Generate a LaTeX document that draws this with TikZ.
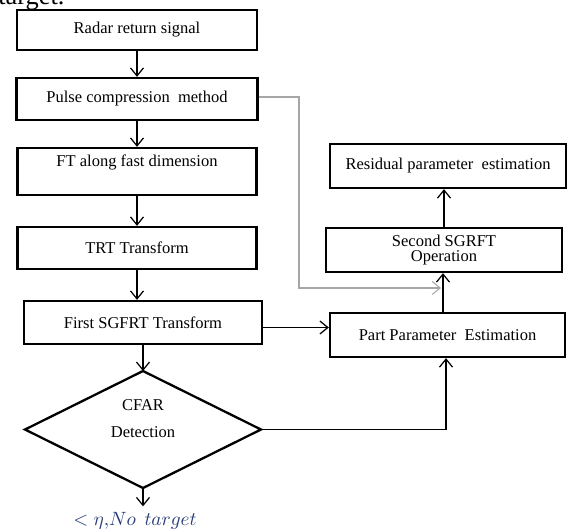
\documentclass[tikz,border=0pt]{standalone}
\usepackage{fontspec}
\setmainfont{Liberation Serif}
\usetikzlibrary{arrows.meta}
\definecolor{navyblue}{RGB}{40,60,120}
\begin{document}
\begin{tikzpicture}[x=0.02cm,y=-0.02cm,>={Straight Barb[length=1.6mm,width=2.6mm]}]
        \useasboundingbox (0,0) rectangle (568,528);
        \tikzstyle{every node}= [font=\fontsize{9.4}{10}\selectfont];
        \tikzstyle{blk}= [draw, line width=1.3pt, inner sep=0pt];
        \tikzstyle{link}= [draw, line width=0.7pt];
        \tikzstyle{feed}= [draw=gray!70, line width=0.6pt];

        % cut off caption above the chart
        \node(cap)[anchor=base west,inner sep=0pt,font=\fontsize{15}{18}\selectfont] at (-2,4) {target.};

        % left column
        \node(radar)[blk,minimum width=240*0.02cm,minimum height=40*0.02cm] at (137,30) {Radar return signal};
        \node(pulse)[blk,minimum width=241*0.02cm,minimum height=42*0.02cm] at (137,99) {Pulse compression~ method};
        \node(ft)[blk,minimum width=239*0.02cm,minimum height=47*0.02cm] at (137,171.5) {};
        \node(fttext) at (137,162) {FT along fast dimension};
        \node(trt)[blk,minimum width=239*0.02cm,minimum height=42*0.02cm] at (137,248) {TRT Transform};
        \node(first)[blk,minimum width=238*0.02cm,minimum height=43*0.02cm] at (143,322.5) {First SGFRT Transform};
        \draw[line width=1.3pt] (143,371) -- (261,429.5) -- (143,488) -- (25,429.5) -- cycle;
        \coordinate(ctop) at (143,371);
        \coordinate(cbot) at (143,488);
        \coordinate(cright) at (261,429.5);
        \coordinate(nobend) at (446,429.5);
        \node(cfartext)[align=center] at (143,418.5) {CFAR\\[5pt]Detection};
        \node(notarget)[text=navyblue,font=\fontsize{11}{12}\selectfont] at (135,521) {$<\eta,\!No\;\,target$};

        % right column
        \node(resid)[blk,minimum width=236*0.02cm,minimum height=44*0.02cm] at (448,166) {Residual parameter~ estimation};
        \node(second)[blk,minimum width=236*0.02cm,minimum height=44*0.02cm,align=center,
          font=\fontsize{9.4}{8.5}\selectfont] at (444,250) {Second SGRFT\\Operation};
        \node(part)[blk,minimum width=235*0.02cm,minimum height=44*0.02cm] at (447.5,335) {Part Parameter~ Estimation};
        \coordinate(fbend1) at (299,97);
        \coordinate(fbend2) at (299,288);
        \coordinate(fend) at (441,288);

        % connectors
        \draw[link,->] (radar) -- (pulse);
        \draw[link,->] (pulse) -- (ft);
        \draw[link,->] (ft) -- (trt);
        \draw[link,->] (trt.south) -- (trt.south |- first.north);
        \draw[link,->] (first.south -| ctop) -- (ctop);
        \draw[link,->] (cbot) -- (notarget.north -| cbot);
        \draw[link,->] (first.east |- 0,327.5) -- (part.west |- 0,327.5);
        \draw[link,->] (cright) -- (nobend) -- (nobend |- part.south);
        \draw[link,->] (part.north -| 443,0) -- (second.south -| 443,0);
        \draw[link,->] (second.north) -- (second.north |- resid.south);
        \draw[feed,->] (pulse.east |- fbend1) -- (fbend1) -- (fbend2) -- (fend);
      \end{tikzpicture}
\end{document}
